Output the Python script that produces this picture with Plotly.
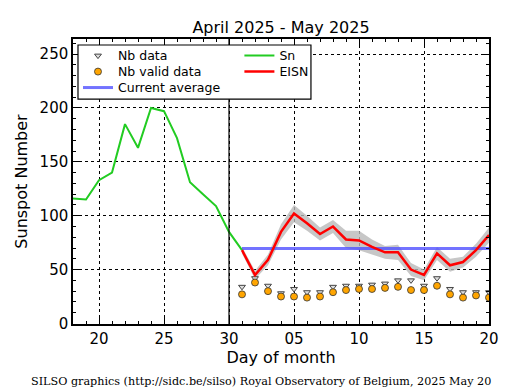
import plotly.graph_objects as go

# Days: April d -> d ; May d -> 30 + d
sn_days = [18, 19, 20, 21, 22, 23, 24, 25, 26, 27, 28, 29, 30, 31]
sn_vals = [116, 115, 133, 140, 185, 163, 200, 197, 172, 131, 120, 109, 85, 68]

may_days = list(range(31, 51))
eisn_vals = [68, 45, 59, 85, 102, 93, 83, 90, 78, 77, 71, 66, 66, 50, 45, 65, 54, 57, 68, 82]
eisn_err = [3, 4, 5, 7, 8, 7, 6, 6, 8, 9, 7, 6, 7, 6, 5, 6, 6, 5, 6, 7]
nb_data = [34, 42, 35, 28, 32, 29, 29, 34, 35, 35, 36, 37, 40, 40, 35, 42, 32, 29, 29, 29]
nb_valid = [27, 38, 30, 25, 25, 24, 25, 29, 31, 32, 32, 33, 34, 31, 31, 35, 27, 24, 26, 24]
current_avg = 69.5

tick_vals = [20, 25, 30, 35, 40, 45, 50]
tick_text = ["20", "25", "30", "05", "10", "15", "20"]

FONT = "DejaVu Sans"
fig = go.Figure()

upper = [v + e for v, e in zip(eisn_vals, eisn_err)]
lower = [v - e for v, e in zip(eisn_vals, eisn_err)]
fig.add_trace(go.Scatter(x=may_days + may_days[::-1], y=upper + lower[::-1], fill="toself",
                         fillcolor="rgba(185,185,185,0.8)", line=dict(width=0),
                         showlegend=False, hoverinfo="skip"))
fig.add_trace(go.Scatter(x=may_days, y=nb_data, mode="markers", name="Nb data",
                         marker=dict(symbol="triangle-down", size=6, color="#dddddd",
                                     line=dict(color="#444444", width=1)), legend="legend"))
fig.add_trace(go.Scatter(x=may_days, y=nb_valid, mode="markers", name="Nb valid data",
                         marker=dict(symbol="circle", size=7, color="#ffa500",
                                     line=dict(color="#333333", width=0.8)), legend="legend2"))
fig.add_trace(go.Scatter(x=[may_days[0], may_days[-1]], y=[current_avg, current_avg], mode="lines",
                         name="Current average", line=dict(color="rgba(80,80,255,0.8)", width=3),
                         legend="legend3"))
fig.add_trace(go.Scatter(x=sn_days, y=sn_vals, mode="lines", name="Sn",
                         line=dict(color="#22cc22", width=2), legend="legend4"))
fig.add_trace(go.Scatter(x=may_days, y=eisn_vals, mode="lines", name="EISN",
                         line=dict(color="#ff0000", width=2.5), legend="legend5"))

fig.add_vline(x=30, line=dict(color="black", width=1.2))

# legend frame
fig.add_shape(type="rect", xref="paper", yref="paper", x0=0.012, x1=0.572, y0=0.789, y1=0.979,
              line=dict(color="black", width=1.2), fillcolor="white", layer="above")

axis_common = dict(showline=True, linecolor="black", linewidth=1.5, mirror="ticks",
                   ticks="inside", ticklen=6, tickcolor="black", showgrid=True,
                   gridcolor="black", griddash="dot", gridwidth=0.8, zeroline=False,
                   tickfont=dict(family=FONT, size=15, color="black"))

fig.update_xaxes(range=[18, 50], tickvals=tick_vals, ticktext=tick_text,
                 minor=dict(dtick=1, tick0=0, ticklen=3, ticks="inside", tickcolor="black", showgrid=False),
                 title=dict(text="Day of month", font=dict(family=FONT, size=16, color="black"), standoff=5),
                 **axis_common)
fig.update_yaxes(range=[-0.5, 264], tickvals=[0, 50, 100, 150, 200, 250],
                 minor=dict(dtick=10, tick0=0, ticklen=3, ticks="inside", tickcolor="black", showgrid=False),
                 title=dict(text="Sunspot Number", font=dict(family=FONT, size=16, color="black"), standoff=8),
                 **axis_common)

legend_common = dict(bgcolor="rgba(0,0,0,0)", borderwidth=0, font=dict(family=FONT, size=12.5, color="black"),
                     xanchor="left", yanchor="top", tracegroupgap=0, itemwidth=30)
fig.update_layout(
    width=515, height=390,
    margin=dict(l=73, r=26, t=39, b=66),
    paper_bgcolor="white", plot_bgcolor="white",
    title=dict(text="April 2025 - May 2025", x=0.5, xref="paper", y=0.93, yref="container",
               yanchor="middle", font=dict(family=FONT, size=16, color="black")),
    legend=dict(x=0.012, y=0.993, **legend_common),
    legend2=dict(x=0.012, y=0.937, **legend_common),
    legend3=dict(x=0.012, y=0.881, **legend_common),
    legend4=dict(x=0.40, y=0.993, **legend_common),
    legend5=dict(x=0.40, y=0.937, **legend_common),
    annotations=[dict(text="SILSO graphics (http://sidc.be/silso) Royal Observatory of Belgium, 2025 May 20",
                      xref="paper", yref="paper", x=0.452, y=-0.2, xanchor="center", yanchor="middle",
                      showarrow=False, font=dict(family="DejaVu Serif", size=11.2, color="black"))],
)

fig.write_html("out.html", config={"displayModeBar": False},
               post_script="document.body.style.margin='0';document.body.style.padding='0';")
